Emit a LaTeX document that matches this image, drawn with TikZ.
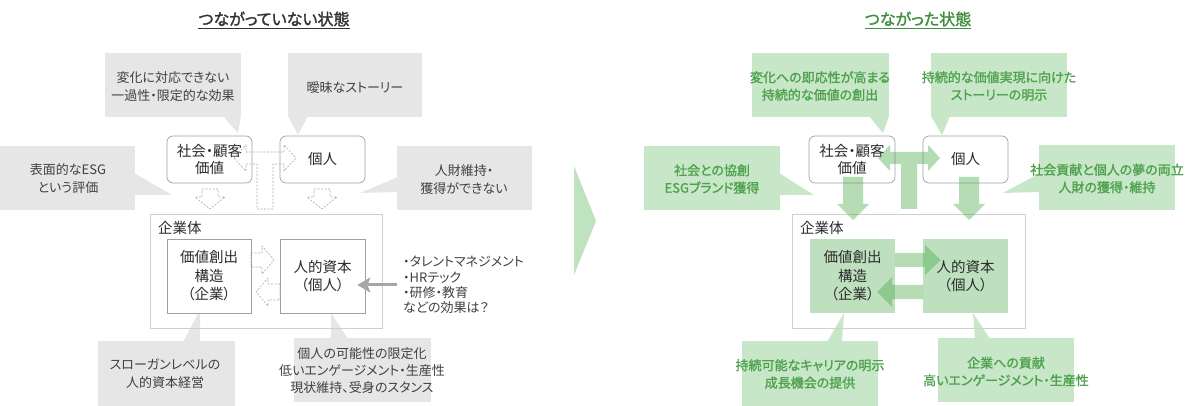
\documentclass[tikz,border=0pt]{standalone}
\usepackage{fontspec}
\setmainfont[RawFeature=+palt]{Noto Sans CJK JP}
\newfontfamily\jpbold[RawFeature=+palt,FakeBold=1.5]{Noto Sans CJK JP}
\definecolor{grayfill}{HTML}{E6E6E6}
\definecolor{graytext}{HTML}{404040}
\definecolor{boxborder}{HTML}{A0A0A0}
\definecolor{outerborder}{HTML}{CFCFCF}
\definecolor{dashgray}{HTML}{ABABAB}
\definecolor{arrowgray}{HTML}{A6A6A6}
\definecolor{greenfill}{HTML}{C8E6C8}
\definecolor{greenbox}{HTML}{BEE0BE}
\definecolor{arrowgreen}{HTML}{45A845}
\definecolor{greentext}{HTML}{4EA24E}
\definecolor{titlegreen}{HTML}{3F8F3F}
\definecolor{titlegray}{HTML}{333333}
\definecolor{chevroncol}{HTML}{BFE2BF}
\definecolor{boxtext}{HTML}{2B2B2B}
\usetikzlibrary{arrows.meta}
\newcommand\downblock[7]{%
 \path[#1] ({#2-#6},#3) -- ({#2+#6},#3) -- ({#2+#6},#4) -- ({#2+#7},#4) -- (#2,#5) -- ({#2-#7},#4) -- ({#2-#6},#4) -- cycle;}
\newcommand\hblock[7]{%
 \path[#1] (#2,{#5-#6}) -- (#3,{#5-#6}) -- (#3,{#5-#7}) -- (#4,#5) -- (#3,{#5+#7}) -- (#3,{#5+#6}) -- (#2,{#5+#6}) -- cycle;}
\newcommand\tblock[2]{%
 \path[#1] ({#2-31},158) -- ({#2-19},145) -- ({#2-19},152) -- ({#2+19},152) -- ({#2+19},145) -- ({#2+31},158) -- ({#2+19},171) -- ({#2+19},164) -- ({#2+8},164) -- ({#2+8},209) -- ({#2-8},209) -- ({#2-8},164) -- ({#2-19},164) -- ({#2-19},171) -- cycle;}
\begin{document}
\begin{tikzpicture}[x=1pt,y=-1pt,
  gfill/.style={fill=grayfill},
  grfill/.style={fill=greenfill},
  ctext/.style={inner sep=0pt, align=center, text=graytext, font=\fontsize{13}{17.5}\selectfont},
  gtext/.style={inner sep=0pt, align=center, text=greentext, font=\jpbold\fontsize{13}{17.5}\selectfont},
  btext/.style={inner sep=0pt, align=center, text=boxtext, font=\fontsize{14.5}{18.5}\selectfont},
  roundbox/.style={btext, draw=boxborder, line width=0.7pt, rounded corners=6pt, fill=white, minimum height=47pt, font=\fontsize{14.5}{16.5}\selectfont},
  lbox/.style={btext, draw=boxborder, line width=0.7pt, fill=white, minimum height=74pt},
  gbox/.style={btext, fill=greenbox, minimum height=74pt},
  outerbox/.style={draw=outerborder, line width=0.8pt, minimum width=232pt, minimum height=114pt, inner sep=0pt},
  dasharrow/.style={draw=dashgray, line width=0.6pt, dash pattern=on 2pt off 1.5pt},
  greenarrow/.style={fill=arrowgreen, fill opacity=0.4},
  titlefont/.style={inner sep=0pt, font=\jpbold\fontsize{16}{18}\selectfont}
]
\useasboundingbox (0,0) rectangle (1200,406);

% ================= LEFT PANEL =================
\node[titlefont, text=titlegray] (ltitle) at (274,19) {つながっていない状態};
\draw[titlegray, line width=0.8pt] ([yshift=-1.5pt]ltitle.south west) -- ([yshift=-1.5pt]ltitle.south east);

% gray callouts
\fill[gfill] (105,53) rectangle (241,117);
\fill[gfill] (223,116) -- (241,116) -- (238,133) -- cycle;
\node[ctext] (lc1) at (173,86.5) {変化に対応できない\\一過性・限定的な効果};

\fill[gfill] (288,53) rectangle (422,117);
\fill[gfill] (288,116) -- (308,116) -- (298,135) -- cycle;
\node[ctext] (lc2) at (355,88) {曖昧なストーリー};

\fill[gfill] (0,146) rectangle (135,210);
\fill[gfill] (134,173) -- (172,195) -- (134,195) -- cycle;
\node[ctext] (lc3) at (68,178.5) {表面的なESG\\という評価};

\fill[gfill] (397,146) rectangle (532,210);
\fill[gfill] (398,177) -- (360,193) -- (398,192) -- cycle;
\node[ctext] (lc4) at (464,179.5) {人財維持・\\獲得ができない};

\fill[gfill] (98,341) rectangle (235,406);
\fill[gfill] (183,342) -- (200,310) -- (200,342) -- cycle;
\node[ctext] (lc5) at (165,373.5) {スローガンレベルの\\人的資本経営};

\fill[gfill] (294,338) rectangle (431,402);
\fill[gfill] (331,313) -- (331,339) -- (348,339) -- cycle;
\node[ctext, font=\fontsize{13}{17}\selectfont] (lc6) at (362,371) {個人の可能性の限定化\\低いエンゲージメント・生産性\\現状維持、受身のスタンス};

% structure
\node[outerbox] (lcorp) at (266,271) {};
\node[btext, anchor=west] (lcorpl) at (158,228) {企業体};
\node[lbox, minimum width=84pt] (lvc) at (209,276) {価値創出\\構造\\（企業）};
\node[lbox, minimum width=85pt] (lhc) at (322.5,276) {人的資本\\（個人）};
\node[roundbox, minimum width=85pt] (lsv) at (209.5,159.5) {社会・顧客\\価値};
\node[roundbox, minimum width=85pt] (lko) at (322.5,159.5) {個人};

% dashed block arrows
\tblock{dasharrow}{265}
\downblock{dasharrow}{210}{189}{197}{209}{8}{15}
\downblock{dasharrow}{322}{189}{197}{209}{8}{15}
\hblock{dasharrow}{251}{262}{274}{260}{7}{14}
\hblock{dasharrow}{280}{268}{256}{292}{8}{14}

% bullet text and arrow
\node[anchor=west, align=left, inner sep=0pt, text=graytext, font=\fontsize{13}{15.3}\selectfont] (bullets) at (403,285) {・タレントマネジメント\\・HRテック\\・研修・教育\\などの効果は？};
\coordinate (bulletarrow) at (397,285);
\coordinate (hcin) at ([xshift=-8pt]lhc.east);
\draw[arrowgray, line width=3pt, -{Stealth[length=13pt,width=15pt,inset=3pt]}] (bulletarrow) -- (hcin |- bulletarrow);

% chevron
\fill[chevroncol] (574,166) -- (596,221) -- (574,275) -- cycle;

% ================= RIGHT PANEL =================
\node[titlefont, text=titlegreen] (rtitle) at (918,19) {つながった状態};
\draw[titlegreen, line width=0.8pt] ([yshift=-1.5pt]rtitle.south west) -- ([yshift=-1.5pt]rtitle.south east);

\fill[grfill] (752,53) rectangle (889,117);
\fill[grfill] (869,116) -- (889,116) -- (883,133) -- cycle;
\node[gtext] (rc1) at (820,86) {変化への即応性が高まる\\持続的な価値の創出};

\fill[grfill] (931,53) rectangle (1067,117);
\fill[grfill] (931,116) -- (950,116) -- (942,135) -- cycle;
\node[gtext] (rc2) at (999,86) {持続的な価値実現に向けた\\ストーリーの明示};

\fill[grfill] (644,146) rectangle (780,210);
\fill[grfill] (779,173) -- (814,195) -- (779,195) -- cycle;
\node[gtext] (rc3) at (712,179) {社会との協創\\ESGブランド獲得};

\fill[grfill] (1039,145) rectangle (1175,210);
\fill[grfill] (1040,173) -- (1003,193) -- (1040,192) -- cycle;
\node[gtext] (rc4) at (1107,178.5) {社会貢献と個人の夢の両立\\人財の獲得・維持};

\fill[grfill] (742,341) rectangle (878,406);
\fill[grfill] (827,342) -- (844,313) -- (842,342) -- cycle;
\node[gtext] (rc5) at (810,374) {持続可能なキャリアの明示\\成長機会の提供};

\fill[grfill] (938,338) rectangle (1074,402);
\fill[grfill] (973,313) -- (975,339) -- (990,339) -- cycle;
\node[gtext] (rc6) at (1006,371.5) {企業への貢献\\高いエンゲージメント・生産性};

% structure
\node[outerbox, minimum width=233pt] (rcorp) at (908.5,271) {};
\node[btext, anchor=west] (rcorpl) at (800,228) {企業体};
\node[gbox, minimum width=85pt] (rvc) at (852.5,276) {価値創出\\構造\\（企業）};
\node[gbox, minimum width=85pt] (rhc) at (965.5,276) {人的資本\\（個人）};
\node[roundbox, minimum width=86pt] (rsv) at (852,159.5) {社会・顧客\\価値};
\node[roundbox, minimum width=85pt] (rko) at (965.5,159.5) {個人};

% green block arrows
\tblock{greenarrow}{909}
\downblock{greenarrow}{853}{177}{204}{220}{10}{16}
\downblock{greenarrow}{969}{177}{204}{220}{10}{16}
\hblock{greenarrow}{895}{925}{941}{260}{7}{15}
\hblock{greenarrow}{923}{892}{877}{292}{7}{15}
\end{tikzpicture}
\end{document}
